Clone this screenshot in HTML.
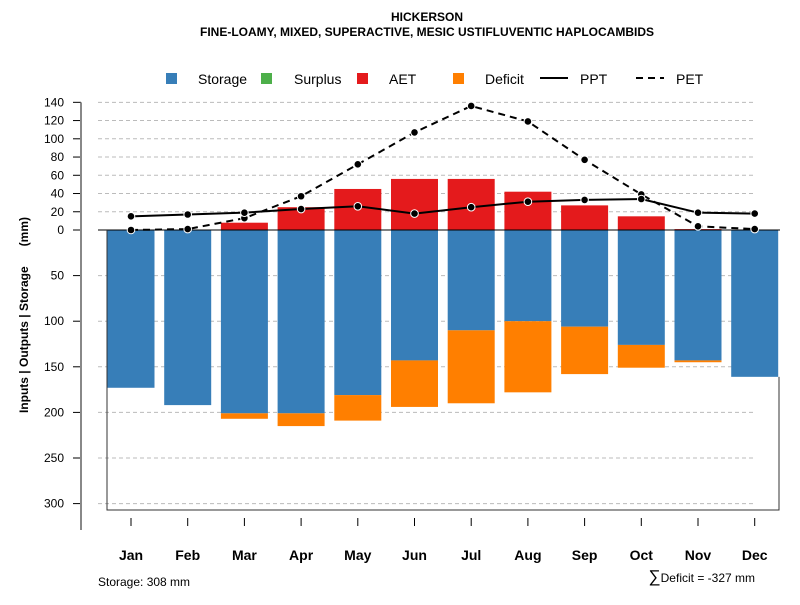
<!DOCTYPE html>
<html><head><meta charset="utf-8"><style>
body{margin:0;background:#fff}
svg{font-family:"Liberation Sans",sans-serif}
</style></head><body>
<svg id="c" width="800" height="600" viewBox="0 0 800 600">
<text x="427" y="21" text-anchor="middle" font-size="12" font-weight="bold">HICKERSON</text>
<text x="427" y="36" text-anchor="middle" font-size="12" font-weight="bold">FINE-LOAMY, MIXED, SUPERACTIVE, MESIC USTIFLUVENTIC HAPLOCAMBIDS</text>
<g id="legend">
<rect x="166" y="73" width="11" height="11" fill="#377eb8"/>
<text x="198" y="84" font-size="14">Storage</text>
<rect x="261" y="73" width="11" height="11" fill="#4daf4a"/>
<text x="294" y="84" font-size="14">Surplus</text>
<rect x="357" y="73" width="11" height="11" fill="#e41a1c"/>
<text x="389" y="84" font-size="14">AET</text>
<rect x="453" y="73" width="11" height="11" fill="#ff7f00"/>
<text x="485" y="84" font-size="14">Deficit</text>
<line x1="540" y1="78" x2="568" y2="78" stroke="#000" stroke-width="2"/>
<text x="580" y="84" font-size="14">PPT</text>
<line x1="636" y1="78" x2="664" y2="78" stroke="#000" stroke-width="2" stroke-dasharray="7,5"/>
<text x="676" y="84" font-size="14">PET</text>
</g>
<text transform="translate(28,315) rotate(-90)" text-anchor="middle" font-size="12" font-weight="bold" style="white-space:pre">Inputs | Outputs | Storage      (mm)</text>
<text x="98" y="586" font-size="12">Storage: 308 mm</text>
<text x="755" y="582" text-anchor="end" font-size="12"><tspan font-size="17">∑</tspan>Deficit = -327 mm</text>
<g id="grid"></g><g id="bars"></g><g id="lines"></g><g id="axes"></g>
</svg>
<script>
const months=["Jan","Feb","Mar","Apr","May","Jun","Jul","Aug","Sep","Oct","Nov","Dec"];
const storage=[173,192,201,201,181,143,110,100,106,126,143,161];
const deficit=[0,0,6,14,28,51,80,78,52,25,2,0];
const aet=[0,0,8,25,45,56,56,42,27,15,1,0];
const ppt=[15,17,19,23,26,18,25,31,33,34,19,18];
const pet=[0,1,13,37,72,107,136,119,77,39,4,1];
const posTicks=[0,20,40,60,80,100,120,140];
const negTicks=[50,100,150,200,250,300];
const NS="http://www.w3.org/2000/svg";
const y0=230,k=0.912;
const y=v=>y0-v*k;
const x=i=>131+i*56.7;
const bw=47;
function mk(p,t,a){const e=document.createElementNS(NS,t);for(const q in a)e.setAttribute(q,a[q]);document.getElementById(p).appendChild(e);return e;}
posTicks.concat(negTicks.map(v=>-v)).forEach(v=>{
 if(v!==0){const g=mk("grid","line",{x1:98,x2:755,y1:y(v),y2:y(v),stroke:"#bbb","stroke-dasharray":"4,3"});
 
 }
 const t=mk("axes","line",{x1:73,x2:81,y1:y(v),y2:y(v),stroke:"#000"});
 
 
 const l=mk("axes","text",{x:64,y:y(v)+4,"text-anchor":"end","font-size":12});
 l.textContent=Math.abs(v);
 
 
});
months.forEach((m,i)=>{
 const s=mk("bars","rect",{x:x(i)-bw/2,y:y0,width:bw,height:storage[i]*k,fill:"#377eb8"});
 
 
 if(deficit[i]>0){const d=mk("bars","rect",{x:x(i)-bw/2,y:y(-storage[i]),width:bw,height:deficit[i]*k,fill:"#ff7f00"});
 
 }
 if(aet[i]>0){const a=mk("bars","rect",{x:x(i)-bw/2,y:y(aet[i]),width:bw,height:aet[i]*k,fill:"#e41a1c"});
 
 }
 const t=mk("axes","line",{x1:x(i),x2:x(i),y1:518,y2:526,stroke:"#000"});
 
 
 const l=mk("axes","text",{x:x(i),y:560,"text-anchor":"middle","font-size":14,"font-weight":"bold"});
 l.textContent=m;
 
 
});
let zl=mk("lines","line",{x1:98,x2:780,y1:y0,y2:y0,stroke:"#000"});


let bx=mk("axes","path",{d:`M107 ${y0} V510 H779 V${y(-storage[11])}`,fill:"none",stroke:"#333"});


let ax=mk("axes","line",{x1:81,x2:81,y1:y(140),y2:530,stroke:"#888",'stroke-width':2});


[[pet,"7,5","pet"],[ppt,null,"ppt"]].forEach(([arr,da,n])=>{
 const p=mk("lines","polyline",{points:arr.map((v,i)=>x(i)+","+y(v)).join(" "),fill:"none",stroke:"#000","stroke-width":2});
 if(da)p.setAttribute("stroke-dasharray",da);
 
 
 arr.forEach((v,i)=>{const c=mk("lines","circle",{cx:x(i),cy:y(v),r:3.8,fill:"#000",stroke:"#fff","stroke-width":1});
 
 });
});
</script>
</body></html>
